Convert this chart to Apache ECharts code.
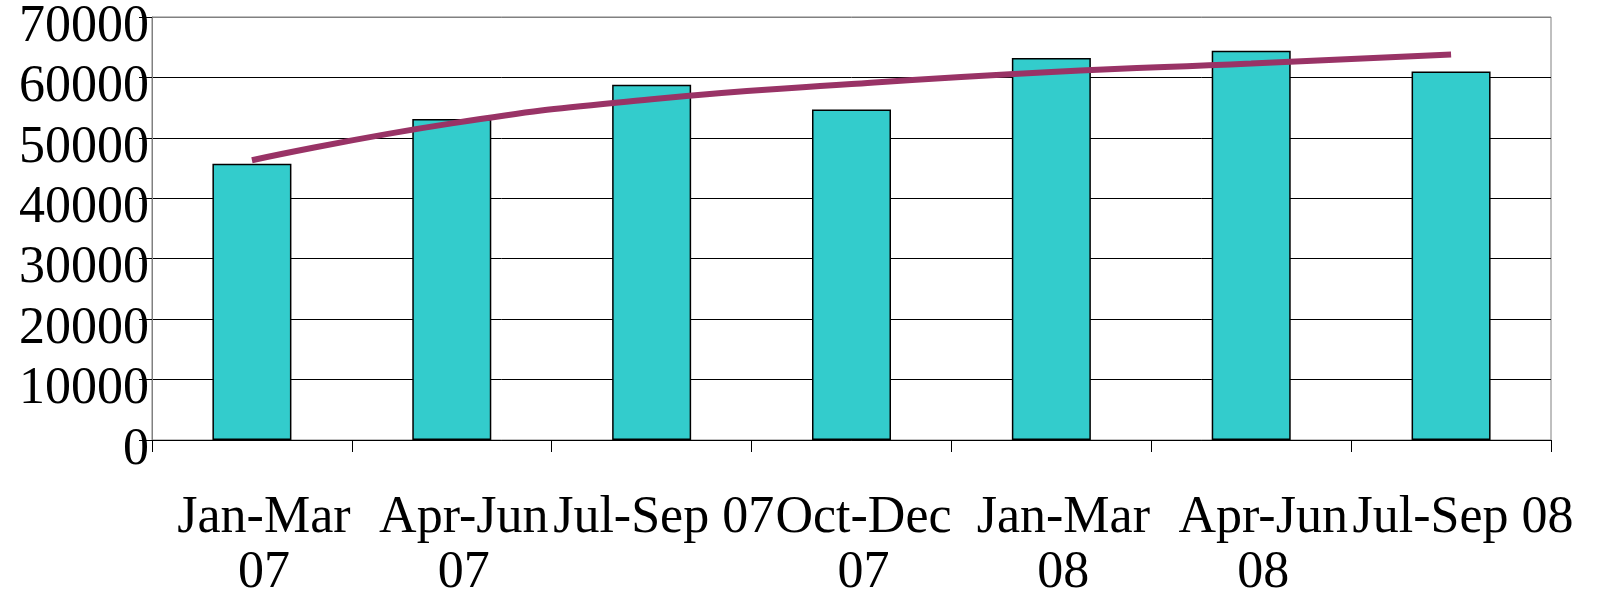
<!DOCTYPE html>
<html>
<head>
<meta charset="utf-8">
<script src="https://cdn.jsdelivr.net/npm/echarts@6/dist/echarts.min.js"></script>
<style>
  html, body { margin: 0; padding: 0; background: #fff; }
  #chart { width: 1597px; height: 597px; }
</style>
</head>
<body>
<div id="chart"></div>
<script>
// 季度标签
const quarters = ['Jan-Mar\n07', 'Apr-Jun\n07', 'Jul-Sep 07', 'Oct-Dec\n07', 'Jan-Mar\n08', 'Apr-Jun\n08', 'Jul-Sep 08']
// 柱状数据
const barValues = [45700, 53100, 58800, 54700, 63200, 64400, 61000]
// 趋势线（对数）读数
const trendValues = [46300, 52400, 56400, 58900, 60900, 62300, 63800]
const yTicks = [0, 10000, 20000, 30000, 40000, 50000, 60000, 70000]

const font = 'Liberation Serif'
const chart = echarts.init(document.getElementById('chart'))

chart.setOption({
  animation: false,
  grid: {
    left: 152,
    right: 46,
    top: 17,
    bottom: 157,
    containLabel: false,
    outerBoundsMode: 'none',
    show: true,
    borderColor: '#808080',
    borderWidth: 1
  },
  xAxis: {
    type: 'category',
    data: quarters,
    axisLine: { lineStyle: { color: '#000', width: 1 } },
    axisTick: { show: true, interval: 0, length: 12, lineStyle: { color: '#000' } },
    axisLabel: {
      interval: 0,
      fontFamily: font,
      fontSize: 52,
      color: '#000',
      lineHeight: 55,
      margin: 51,
      padding: [0, 0, 0, 24]
    }
  },
  yAxis: {
    type: 'value',
    min: yTicks[0],
    max: yTicks[yTicks.length - 1],
    interval: 10000,
    axisLine: { show: true, lineStyle: { color: '#808080' } },
    axisTick: { show: true, length: 13, lineStyle: { color: '#000' } },
    splitLine: {
      lineStyle: {
        color: ['#000', '#000', '#000', '#000', '#000', '#000', '#000', '#808080'],
        width: 1
      }
    },
    axisLabel: {
      fontFamily: font,
      fontSize: 52,
      color: '#000',
      margin: 3,
      lineHeight: 20,
      verticalAlign: 'top',
      formatter: v => String(v)
    }
  },
  series: [
    {
      type: 'bar',
      data: barValues,
      barWidth: 79,
      itemStyle: { color: '#33CCCC', borderColor: '#000', borderWidth: 1.5 }
    },
    {
      type: 'line',
      data: trendValues,
      smooth: true,
      symbol: 'none',
      lineStyle: { color: '#993366', width: 6 }
    }
  ]
})
</script>
</body>
</html>
